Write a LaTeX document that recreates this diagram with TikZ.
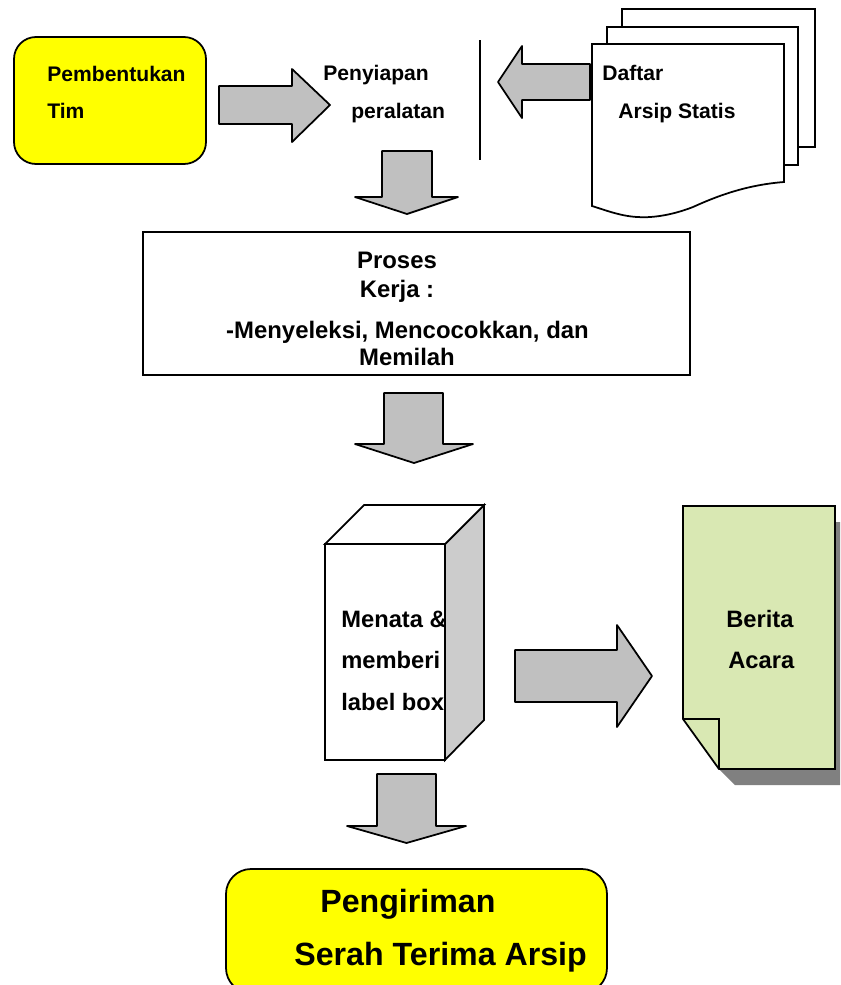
\documentclass[tikz,border=0pt]{standalone}
\usepackage{fontspec}
\setmainfont{Liberation Sans}
\usepackage{tikz}

\definecolor{boxyellow}{HTML}{FFFF00}
\definecolor{arrowgrey}{HTML}{C0C0C0}
\definecolor{sidegrey}{HTML}{CCCCCC}
\definecolor{shadowgrey}{HTML}{808080}
\definecolor{pagegreen}{HTML}{D9E8B3}

\tikzset{
  outline/.style={draw=black, line width=1pt, line join=miter},
  blockarrow/.style={outline, fill=arrowgrey, line join=round},
  lbl/.style={anchor=base west, inner sep=0pt, font=\fontsize{12}{14}\selectfont\bfseries},
  lblwide/.style={anchor=base west, inner sep=0pt, font=\fontsize{13.5}{16}\selectfont\bfseries},
  lblmid/.style={anchor=base, inner sep=0pt, font=\fontsize{13.6}{16}\selectfont\bfseries},
  lblbig/.style={anchor=base west, inner sep=0pt, font=\fontsize{18.3}{22}\selectfont\bfseries}
}

\begin{document}
\begin{tikzpicture}[x=0.02cm, y=-0.02cm]
    \useasboundingbox (0,0) rectangle (840,985);
    \clip (0,0) rectangle (840,985);

    % Draw the first yellow box
    \draw[outline, fill=boxyellow, rounded corners=0.44cm] (14,37) rectangle (206,164);
    \node[lbl] (Pembentukan) at (47,81) {Pembentukan};
    \node[lbl] (Tim) at (47,118) {Tim};

    % Draw the arrow to the preparation step
    \draw[blockarrow] (219,86) -- (292,86) -- (292,69) -- (330,105) -- (292,142) -- (292,124) -- (219,124) -- cycle;
    \node[lbl] (Penyiapan) at (323,80) {Penyiapan};
    \node[lbl] (Peralatan) at (351,118) {peralatan};

    % Draw the vertical rule
    \draw[line width=1pt] (480,40) -- (480,160);

    % Draw the arrow coming out of the documents
    \draw[blockarrow] (590,64) -- (522,64) -- (522,46) -- (498,82) -- (522,118) -- (522,100) -- (590,100) -- cycle;

    % Draw the stack of documents
    \draw[outline, fill=white] (622,9) rectangle (815,147);
    \draw[outline, fill=white] (607,27) rectangle (798,165);
    \draw[outline, fill=white] (592,44) -- (784,44) -- (784,182)
        .. controls (745,185) and (715,197) .. (693,207)
        .. controls (670,216) and (650,218) .. (637,217)
        .. controls (620,216) and (605,210) .. (592,206) -- cycle;
    \node[lbl] (Daftar) at (602,80) {Daftar};
    \node[lbl] (Arsip) at (618,118) {Arsip Statis};

    % Draw the arrow to the work box
    \draw[blockarrow] (382,151) -- (432,151) -- (432,197) -- (458,197) -- (407,214) -- (355,197) -- (382,197) -- cycle;

    % Draw the work box
    \draw[outline, fill=white] (143,232) rectangle (690,375);
    \node[lblmid] (Proses) at (397,268) {Proses};
    \node[lblmid] (Kerja) at (397,297) {Kerja :};
    \node[lblmid] (Menyeleksi) at (407.5,338) {-Menyeleksi, Mencocokkan, dan};
    \node[lblmid] (Memilah) at (407,365) {Memilah};

    % Draw the arrow to the cube
    \draw[blockarrow] (384,393) -- (443,393) -- (443,444) -- (473,444) -- (414,463) -- (355,444) -- (384,444) -- cycle;

    % Draw the cube
    \draw[outline, fill=sidegrey] (445,544) -- (484,505) -- (484,720) -- (445,760) -- cycle;
    \draw[outline, fill=white] (325,544) -- (364,505) -- (484,505) -- (445,544) -- cycle;
    \draw[outline, fill=white] (325,544) rectangle (445,760);
    \node[lblwide] (Menata) at (341,627) {Menata \&};
    \node[lblwide] (Memberi) at (341,668) {memberi};
    \node[lblwide] (Labelbox) at (341,710) {label box};

    % Draw the arrow to the report
    \draw[blockarrow] (515,650) -- (617,650) -- (617,625) -- (652,676) -- (617,727) -- (617,702) -- (515,702) -- cycle;

    % Draw the report page with its shadow and folded corner
    \fill[shadowgrey] (835,522) -- (840,522) -- (840,785) -- (735,785) -- (719,769) -- (835,769) -- cycle;
    \draw[outline, fill=pagegreen] (683,506) -- (835,506) -- (835,769) -- (719,769) -- (683,719) -- cycle;
    \draw[outline] (683,719) -- (719,719) -- (719,769);
    \node[lblwide] (Berita) at (726,627) {Berita};
    \node[lblwide] (Acara) at (728,668) {Acara};

    % Draw the arrow to the last box
    \draw[blockarrow] (377,774) -- (436,774) -- (436,826) -- (466,826) -- (406.5,843) -- (347,826) -- (377,826) -- cycle;

    % Draw the last yellow box
    \draw[outline, fill=boxyellow, rounded corners=0.5cm] (226,869) rectangle (607,993);
    \node[lblbig] (Pengiriman) at (320,912) {Pengiriman};
    \node[lblbig] (Serah) at (294,965) {Serah Terima Arsip};
\end{tikzpicture}
\end{document}
